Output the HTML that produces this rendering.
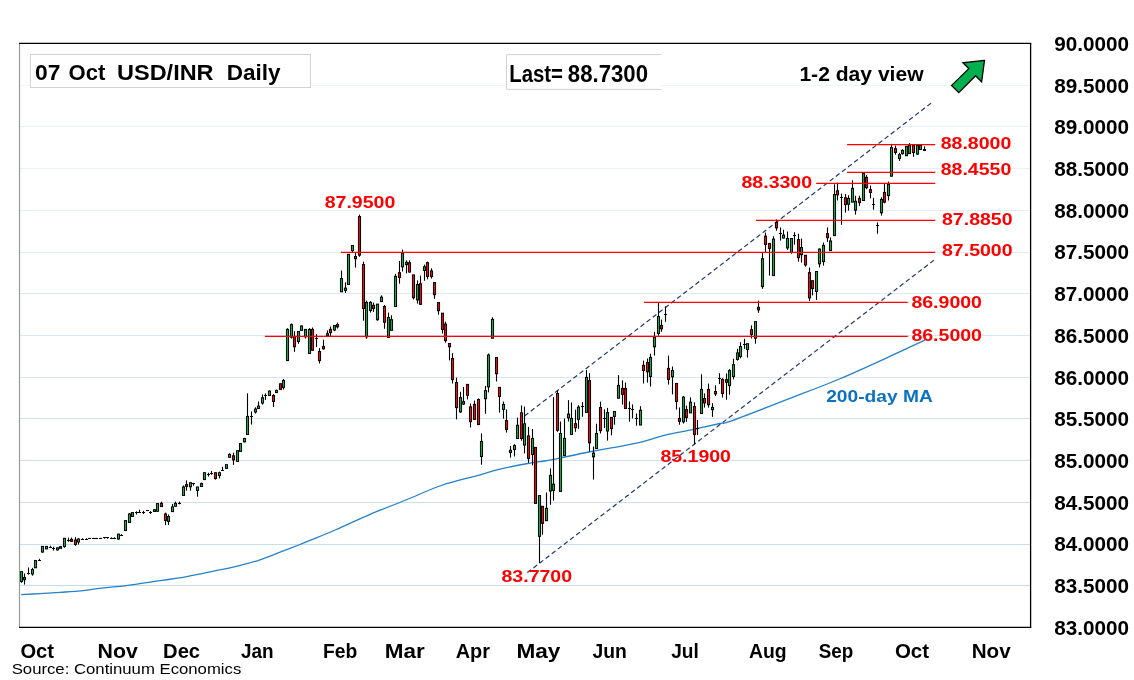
<!DOCTYPE html>
<html><head><meta charset="utf-8"><title>USD/INR Daily</title>
<style>html,body{margin:0;padding:0;background:#fff;}svg{display:block;will-change:transform;}text{font-family:"Liberation Sans",sans-serif;}</style></head>
<body>
<svg width="1134" height="680" viewBox="0 0 1134 680">
<rect x="0" y="0" width="1134" height="680" fill="#ffffff"/>
<g stroke-width="1.2" fill="none">
<line x1="20" y1="85.5" x2="1030" y2="85.5" stroke="#eef3fc"/>
<line x1="20" y1="126.5" x2="1030" y2="126.5" stroke="#ebf1fb"/>
<line x1="20" y1="168.5" x2="1030" y2="168.5" stroke="#e7effa"/>
<line x1="20" y1="210.5" x2="1030" y2="210.5" stroke="#e4edf9"/>
<line x1="20" y1="252.5" x2="1030" y2="252.5" stroke="#e1ebf8"/>
<line x1="20" y1="293.5" x2="1030" y2="293.5" stroke="#dde9f7"/>
<line x1="20" y1="335.5" x2="1030" y2="335.5" stroke="#dae6f6"/>
<line x1="20" y1="377.5" x2="1030" y2="377.5" stroke="#d7e4f4"/>
<line x1="20" y1="418.5" x2="1030" y2="418.5" stroke="#d3e2f3"/>
<line x1="20" y1="460.5" x2="1030" y2="460.5" stroke="#d0e0f2"/>
<line x1="20" y1="502.5" x2="1030" y2="502.5" stroke="#cddef1"/>
<line x1="20" y1="544.5" x2="1030" y2="544.5" stroke="#c9dcf0"/>
<line x1="20" y1="585.5" x2="1030" y2="585.5" stroke="#c6daef"/>
</g>
<path fill="none" stroke="#2582c9" stroke-width="1.3" stroke-linejoin="round" d="M21.2,594.7 C24.3,594.5 33.5,594.0 40.0,593.6 C46.5,593.2 54.2,592.7 60.0,592.3 C65.8,591.9 67.7,592.1 75.0,591.4 C82.3,590.7 95.8,588.8 104.1,587.9 C112.4,587.0 117.6,586.7 125.0,585.8 C132.4,584.9 138.2,583.9 148.3,582.4 C158.4,580.9 174.8,578.8 185.8,576.9 C196.8,575.0 206.1,572.7 214.5,570.9 C222.9,569.1 229.2,568.1 236.5,566.3 C243.8,564.5 251.2,562.7 258.6,560.3 C266.0,557.9 273.8,554.5 280.7,551.9 C287.6,549.3 295.1,546.4 300.0,544.5 C304.9,542.6 304.1,542.8 310.0,540.4 C315.9,538.0 325.2,534.4 335.3,530.0 C345.4,525.6 358.8,519.1 370.6,514.1 C382.4,509.1 394.1,504.8 405.9,500.0 C417.7,495.2 429.4,489.5 441.2,485.5 C453.0,481.5 466.7,478.5 476.5,475.8 C486.3,473.1 490.8,471.3 500.0,469.1 C509.2,466.9 524.3,464.2 531.8,462.8 C539.3,461.4 540.4,461.8 545.0,461.0 C549.6,460.2 552.1,459.7 559.4,458.2 C566.7,456.7 578.7,454.0 588.8,452.0 C598.9,450.0 611.1,448.0 620.0,446.3 C628.9,444.6 634.6,443.7 642.0,441.9 C649.4,440.1 655.5,437.4 664.1,435.3 C672.7,433.2 684.2,431.4 693.5,429.4 C702.8,427.4 713.9,424.8 720.0,423.5 C726.1,422.2 719.2,425.2 730.0,421.4 C740.8,417.5 766.5,407.5 784.7,400.4 C802.9,393.3 821.1,386.7 839.4,379.0 C857.6,371.3 880.0,360.9 894.2,354.4 C908.4,347.9 919.7,342.6 924.8,340.2"/>
<g stroke="#1f3a6e" stroke-width="1.2" stroke-dasharray="4.7 3.0" fill="none">
<line x1="524.6" y1="415.9" x2="931.4" y2="102.9"/>
<line x1="527.3" y1="572.6" x2="935.2" y2="259.2"/>
</g>
<g stroke="#000" stroke-width="1.0">
<line x1="21.5" y1="571.6" x2="21.5" y2="582.8" stroke-width="1.1"/><rect x="20.45" y="571.6" width="2.1" height="9.9" fill="#00b050"/>
<line x1="24.5" y1="573.5" x2="24.5" y2="584.6" stroke-width="1.1"/><rect x="23.45" y="577.5" width="2.1" height="2.2" fill="#00b050"/>
<line x1="28.5" y1="567.4" x2="28.5" y2="574.6" stroke-width="1.1"/><rect x="27.0" y="573" width="3" height="1" fill="#000" stroke="none"/>
<line x1="32.5" y1="567.8" x2="32.5" y2="575.7" stroke-width="1.1"/><rect x="31.45" y="569.6" width="2.1" height="4.4" fill="#00b050"/>
<line x1="35.5" y1="560.5" x2="35.5" y2="567.8" stroke-width="1.1"/><rect x="34.45" y="560.5" width="2.1" height="7.3" fill="#00b050"/>
<line x1="39.5" y1="558.8" x2="39.5" y2="560.7" stroke-width="1.1"/><rect x="38.0" y="560" width="3" height="1" fill="#000" stroke="none"/>
<line x1="42.5" y1="546.4" x2="42.5" y2="552.8" stroke-width="1.1"/><rect x="41.45" y="546.4" width="2.1" height="5.6" fill="#00b050"/>
<line x1="46.5" y1="546.4" x2="46.5" y2="548.8" stroke-width="1.1"/><rect x="45.45" y="546.4" width="2.1" height="2.5" fill="#00b050"/>
<line x1="50.5" y1="545.7" x2="50.5" y2="547.9" stroke-width="1.1"/><rect x="49.0" y="547" width="3" height="1" fill="#000" stroke="none"/>
<line x1="53.5" y1="546.6" x2="53.5" y2="550.6" stroke-width="1.1"/><rect x="52.0" y="548" width="3" height="1" fill="#000" stroke="none"/>
<line x1="57.5" y1="547.8" x2="57.5" y2="550.6" stroke-width="1.1"/><rect x="56.45" y="547.8" width="2.1" height="2.1" fill="#00b050"/>
<line x1="60.5" y1="546.6" x2="60.5" y2="548.4" stroke-width="1.1"/><rect x="59.45" y="546.6" width="2.1" height="1.8" fill="#00b050"/>
<line x1="64.5" y1="538.3" x2="64.5" y2="547.7" stroke-width="1.1"/><rect x="63.45" y="538.3" width="2.1" height="8.3" fill="#00b050"/>
<line x1="68.5" y1="537.6" x2="68.5" y2="541.8" stroke-width="1.1"/><rect x="67.0" y="540" width="3" height="1" fill="#000" stroke="none"/>
<line x1="71.5" y1="537.6" x2="71.5" y2="541.8" stroke-width="1.1"/><rect x="70.45" y="539.4" width="2.1" height="1.9" fill="#ff0000"/>
<line x1="75.5" y1="537.1" x2="75.5" y2="545.8" stroke-width="1.1"/><rect x="74.45" y="540.0" width="2.1" height="4.4" fill="#ff0000"/>
<line x1="78.5" y1="538.3" x2="78.5" y2="544.5" stroke-width="1.1"/><rect x="77.45" y="539.0" width="2.1" height="2.9" fill="#00b050"/>
<line x1="82.5" y1="538.3" x2="82.5" y2="539.7" stroke-width="1.1"/><rect x="81.0" y="539" width="3" height="1" fill="#000" stroke="none"/>
<line x1="86.5" y1="538.3" x2="86.5" y2="539.7" stroke-width="1.1"/><rect x="85.0" y="539" width="3" height="1" fill="#000" stroke="none"/>
<line x1="89.5" y1="537.8" x2="89.5" y2="538.4" stroke-width="1.1"/><rect x="88.0" y="538" width="3" height="1" fill="#000" stroke="none"/>
<line x1="93.5" y1="537.8" x2="93.5" y2="538.4" stroke-width="1.1"/><rect x="92.0" y="538" width="3" height="1" fill="#000" stroke="none"/>
<line x1="96.5" y1="537.8" x2="96.5" y2="538.4" stroke-width="1.1"/><rect x="95.0" y="538" width="3" height="1" fill="#000" stroke="none"/>
<line x1="100.5" y1="537.8" x2="100.5" y2="538.4" stroke-width="1.1"/><rect x="99.0" y="538" width="3" height="1" fill="#000" stroke="none"/>
<line x1="104.5" y1="537.1" x2="104.5" y2="538.7" stroke-width="1.1"/><rect x="103.0" y="537" width="3" height="1" fill="#000" stroke="none"/>
<line x1="107.5" y1="537.1" x2="107.5" y2="538.7" stroke-width="1.1"/><rect x="106.0" y="537" width="3" height="1" fill="#000" stroke="none"/>
<line x1="111.5" y1="537.3" x2="111.5" y2="539.0" stroke-width="1.1"/><rect x="110.0" y="538" width="3" height="1" fill="#000" stroke="none"/>
<line x1="114.5" y1="537.3" x2="114.5" y2="539.0" stroke-width="1.1"/><rect x="113.0" y="538" width="3" height="1" fill="#000" stroke="none"/>
<line x1="118.5" y1="534.1" x2="118.5" y2="539.7" stroke-width="1.1"/><rect x="117.45" y="534.1" width="2.1" height="4.9" fill="#00b050"/>
<line x1="121.5" y1="534.1" x2="121.5" y2="535.6" stroke-width="1.1"/><rect x="120.0" y="535" width="3" height="1" fill="#000" stroke="none"/>
<line x1="125.5" y1="520.6" x2="125.5" y2="530.6" stroke-width="1.1"/><rect x="124.45" y="520.6" width="2.1" height="10.0" fill="#00b050"/>
<line x1="129.5" y1="512.9" x2="129.5" y2="522.4" stroke-width="1.1"/><rect x="128.45" y="514.0" width="2.1" height="8.5" fill="#00b050"/>
<line x1="132.5" y1="512.6" x2="132.5" y2="516.4" stroke-width="1.1"/><rect x="131.45" y="512.6" width="2.1" height="3.8" fill="#00b050"/>
<line x1="136.5" y1="511.3" x2="136.5" y2="514.5" stroke-width="1.1"/><rect x="135.0" y="512" width="3" height="1" fill="#000" stroke="none"/>
<line x1="139.5" y1="509.7" x2="139.5" y2="512.9" stroke-width="1.1"/><rect x="138.0" y="512" width="3" height="1" fill="#000" stroke="none"/>
<line x1="143.5" y1="510.8" x2="143.5" y2="514.0" stroke-width="1.1"/><rect x="142.0" y="512" width="3" height="1" fill="#000" stroke="none"/>
<line x1="147.5" y1="510.5" x2="147.5" y2="511.1" stroke-width="1.1"/><rect x="146.0" y="510" width="3" height="1" fill="#000" stroke="none"/>
<line x1="150.5" y1="511.1" x2="150.5" y2="514.0" stroke-width="1.1"/><rect x="149.0" y="512" width="3" height="1" fill="#000" stroke="none"/>
<line x1="154.5" y1="509.7" x2="154.5" y2="511.5" stroke-width="1.1"/><rect x="153.45" y="509.7" width="2.1" height="1.8" fill="#00b050"/>
<line x1="157.5" y1="503.6" x2="157.5" y2="511.3" stroke-width="1.1"/><rect x="156.45" y="503.6" width="2.1" height="7.7" fill="#00b050"/>
<line x1="161.5" y1="501.6" x2="161.5" y2="506.5" stroke-width="1.1"/><rect x="160.45" y="503.4" width="2.1" height="3.2" fill="#ff0000"/>
<line x1="165.5" y1="512.6" x2="165.5" y2="525.1" stroke-width="1.1"/><rect x="164.45" y="514.0" width="2.1" height="6.4" fill="#ff0000"/>
<line x1="168.5" y1="514.5" x2="168.5" y2="525.1" stroke-width="1.1"/><rect x="167.45" y="516.6" width="2.1" height="4.8" fill="#00b050"/>
<line x1="172.5" y1="503.9" x2="172.5" y2="511.5" stroke-width="1.1"/><rect x="171.45" y="506.9" width="2.1" height="4.7" fill="#00b050"/>
<line x1="175.5" y1="501.6" x2="175.5" y2="506.2" stroke-width="1.1"/><rect x="174.45" y="503.4" width="2.1" height="2.9" fill="#00b050"/>
<line x1="179.5" y1="501.6" x2="179.5" y2="504.3" stroke-width="1.1"/><rect x="178.0" y="503" width="3" height="1" fill="#000" stroke="none"/>
<line x1="183.5" y1="485.4" x2="183.5" y2="495.4" stroke-width="1.1"/><rect x="182.45" y="487.0" width="2.1" height="8.5" fill="#00b050"/>
<line x1="186.5" y1="480.4" x2="186.5" y2="490.7" stroke-width="1.1"/><rect x="185.45" y="484.6" width="2.1" height="1.8" fill="#ff0000"/>
<line x1="190.5" y1="482.7" x2="190.5" y2="490.7" stroke-width="1.1"/><rect x="189.45" y="482.7" width="2.1" height="4.0" fill="#00b050"/>
<line x1="193.5" y1="482.9" x2="193.5" y2="485.7" stroke-width="1.1"/><rect x="192.0" y="483" width="3" height="1" fill="#000" stroke="none"/>
<line x1="197.5" y1="487.0" x2="197.5" y2="496.7" stroke-width="1.1"/><rect x="196.45" y="487.0" width="2.1" height="3.4" fill="#00b050"/>
<line x1="201.5" y1="482.5" x2="201.5" y2="486.4" stroke-width="1.1"/><rect x="200.45" y="483.6" width="2.1" height="2.9" fill="#00b050"/>
<line x1="204.5" y1="472.7" x2="204.5" y2="479.5" stroke-width="1.1"/><rect x="203.45" y="472.7" width="2.1" height="6.9" fill="#00b050"/>
<line x1="208.5" y1="472.7" x2="208.5" y2="476.6" stroke-width="1.1"/><rect x="207.0" y="474" width="3" height="1" fill="#000" stroke="none"/>
<line x1="211.5" y1="470.9" x2="211.5" y2="474.8" stroke-width="1.1"/><rect x="210.0" y="473" width="3" height="1" fill="#000" stroke="none"/>
<line x1="215.5" y1="472.7" x2="215.5" y2="479.7" stroke-width="1.1"/><rect x="214.45" y="472.7" width="2.1" height="5.8" fill="#ff0000"/>
<line x1="219.5" y1="471.6" x2="219.5" y2="478.5" stroke-width="1.1"/><rect x="218.45" y="472.7" width="2.1" height="2.9" fill="#00b050"/>
<line x1="222.5" y1="466.8" x2="222.5" y2="470.9" stroke-width="1.1"/><rect x="221.0" y="470" width="3" height="1" fill="#000" stroke="none"/>
<line x1="226.5" y1="464.7" x2="226.5" y2="468.4" stroke-width="1.1"/><rect x="225.45" y="464.7" width="2.1" height="3.7" fill="#00b050"/>
<line x1="229.5" y1="453.3" x2="229.5" y2="457.3" stroke-width="1.1"/><rect x="228.45" y="454.4" width="2.1" height="2.9" fill="#00b050"/>
<line x1="233.5" y1="452.6" x2="233.5" y2="464.9" stroke-width="1.1"/><rect x="232.45" y="455.8" width="2.1" height="4.1" fill="#ff0000"/>
<line x1="237.5" y1="450.7" x2="237.5" y2="461.4" stroke-width="1.1"/><rect x="236.45" y="450.7" width="2.1" height="10.7" fill="#00b050"/>
<line x1="240.5" y1="443.6" x2="240.5" y2="451.4" stroke-width="1.1"/><rect x="239.45" y="443.6" width="2.1" height="7.8" fill="#00b050"/>
<line x1="244.5" y1="437.9" x2="244.5" y2="442.3" stroke-width="1.1"/><rect x="243.45" y="438.5" width="2.1" height="3.4" fill="#00b050"/>
<line x1="247.5" y1="393.3" x2="247.5" y2="434.5" stroke-width="1.1"/><rect x="246.45" y="416.4" width="2.1" height="18.1" fill="#00b050"/>
<line x1="251.5" y1="411.4" x2="251.5" y2="424.6" stroke-width="1.1"/><rect x="250.0" y="416" width="3" height="1" fill="#000" stroke="none"/>
<line x1="255.5" y1="407.3" x2="255.5" y2="413.5" stroke-width="1.1"/><rect x="254.45" y="409.1" width="2.1" height="2.9" fill="#00b050"/>
<line x1="258.5" y1="401.4" x2="258.5" y2="408.8" stroke-width="1.1"/><rect x="257.45" y="406.1" width="2.1" height="2.4" fill="#00b050"/>
<line x1="262.5" y1="394.4" x2="262.5" y2="404.6" stroke-width="1.1"/><rect x="261.45" y="397.7" width="2.1" height="5.4" fill="#00b050"/>
<line x1="265.5" y1="393.3" x2="265.5" y2="399.9" stroke-width="1.1"/><rect x="264.0" y="395" width="3" height="1" fill="#000" stroke="none"/>
<line x1="269.5" y1="390.4" x2="269.5" y2="395.5" stroke-width="1.1"/><rect x="268.45" y="391.1" width="2.1" height="4.4" fill="#00b050"/>
<line x1="273.5" y1="394.1" x2="273.5" y2="407.0" stroke-width="1.1"/><rect x="272.45" y="395.5" width="2.1" height="5.9" fill="#ff0000"/>
<line x1="276.5" y1="389.6" x2="276.5" y2="392.9" stroke-width="1.1"/><rect x="275.45" y="390.4" width="2.1" height="2.2" fill="#00b050"/>
<line x1="280.5" y1="383.5" x2="280.5" y2="389.6" stroke-width="1.1"/><rect x="279.45" y="383.8" width="2.1" height="5.6" fill="#ff0000"/>
<line x1="283.5" y1="379.1" x2="283.5" y2="389.6" stroke-width="1.1"/><rect x="282.45" y="380.5" width="2.1" height="6.9" fill="#00b050"/>
<line x1="287.5" y1="328.2" x2="287.5" y2="360.6" stroke-width="1.1"/><rect x="286.45" y="329.4" width="2.1" height="31.2" fill="#00b050"/>
<line x1="291.5" y1="323.5" x2="291.5" y2="338.5" stroke-width="1.1"/><rect x="290.45" y="324.6" width="2.1" height="12.5" fill="#00b050"/>
<line x1="294.5" y1="331.2" x2="294.5" y2="351.8" stroke-width="1.1"/><rect x="293.45" y="336.8" width="2.1" height="9.9" fill="#ff0000"/>
<line x1="298.5" y1="331.5" x2="298.5" y2="343.7" stroke-width="1.1"/><rect x="297.45" y="331.5" width="2.1" height="10.0" fill="#00b050"/>
<line x1="301.5" y1="325.3" x2="301.5" y2="330.4" stroke-width="1.1"/><rect x="300.45" y="326.0" width="2.1" height="4.4" fill="#00b050"/>
<line x1="305.5" y1="329.4" x2="305.5" y2="338.5" stroke-width="1.1"/><rect x="304.45" y="329.4" width="2.1" height="7.4" fill="#00b050"/>
<line x1="309.5" y1="328.2" x2="309.5" y2="353.5" stroke-width="1.1"/><rect x="308.45" y="329.4" width="2.1" height="24.1" fill="#00b050"/>
<line x1="312.5" y1="327.5" x2="312.5" y2="350.3" stroke-width="1.1"/><rect x="311.45" y="329.4" width="2.1" height="20.9" fill="#ff0000"/>
<line x1="316.5" y1="334.1" x2="316.5" y2="347.1" stroke-width="1.1"/><rect x="315.0" y="338" width="3" height="1" fill="#000" stroke="none"/>
<line x1="319.5" y1="348.1" x2="319.5" y2="363.5" stroke-width="1.1"/><rect x="318.45" y="351.5" width="2.1" height="9.1" fill="#ff0000"/>
<line x1="323.5" y1="339.7" x2="323.5" y2="349.6" stroke-width="1.1"/><rect x="322.45" y="346.6" width="2.1" height="2.2" fill="#ff0000"/>
<line x1="327.5" y1="330.4" x2="327.5" y2="335.9" stroke-width="1.1"/><rect x="326.45" y="333.8" width="2.1" height="2.1" fill="#00b050"/>
<line x1="330.5" y1="326.5" x2="330.5" y2="335.9" stroke-width="1.1"/><rect x="329.45" y="329.4" width="2.1" height="3.2" fill="#ff0000"/>
<line x1="334.5" y1="325.6" x2="334.5" y2="331.2" stroke-width="1.1"/><rect x="333.45" y="325.6" width="2.1" height="4.4" fill="#00b050"/>
<line x1="337.5" y1="322.6" x2="337.5" y2="328.5" stroke-width="1.1"/><rect x="336.45" y="324.6" width="2.1" height="2.2" fill="#ff0000"/>
<line x1="341.5" y1="270.5" x2="341.5" y2="291.8" stroke-width="1.1"/><rect x="340.45" y="278.6" width="2.1" height="13.2" fill="#00b050"/>
<line x1="345.5" y1="282.3" x2="345.5" y2="293.0" stroke-width="1.1"/><rect x="344.45" y="288.1" width="2.1" height="2.3" fill="#00b050"/>
<line x1="348.5" y1="254.3" x2="348.5" y2="284.5" stroke-width="1.1"/><rect x="347.45" y="254.3" width="2.1" height="30.2" fill="#00b050"/>
<line x1="352.5" y1="245.5" x2="352.5" y2="252.1" stroke-width="1.1"/><rect x="351.45" y="245.5" width="2.1" height="5.1" fill="#00b050"/>
<line x1="355.5" y1="252.1" x2="355.5" y2="267.6" stroke-width="1.1"/><rect x="354.45" y="256.5" width="2.1" height="2.2" fill="#ff0000"/>
<line x1="359.5" y1="214.6" x2="359.5" y2="256.8" stroke-width="1.1"/><rect x="358.45" y="216.5" width="2.1" height="38.6" fill="#ff0000"/>
<line x1="363.5" y1="261.7" x2="363.5" y2="320.7" stroke-width="1.1"/><rect x="362.45" y="264.6" width="2.1" height="43.9" fill="#ff0000"/>
<line x1="366.5" y1="300.6" x2="366.5" y2="338.8" stroke-width="1.1"/><rect x="365.45" y="302.4" width="2.1" height="34.5" fill="#00b050"/>
<line x1="370.5" y1="301.2" x2="370.5" y2="312.6" stroke-width="1.1"/><rect x="369.45" y="302.4" width="2.1" height="8.0" fill="#00b050"/>
<line x1="373.5" y1="302.6" x2="373.5" y2="311.9" stroke-width="1.1"/><rect x="372.45" y="305.3" width="2.1" height="3.2" fill="#ff0000"/>
<line x1="377.5" y1="304.1" x2="377.5" y2="320.7" stroke-width="1.1"/><rect x="376.45" y="304.1" width="2.1" height="15.6" fill="#00b050"/>
<line x1="381.5" y1="295.3" x2="381.5" y2="301.6" stroke-width="1.1"/><rect x="380.45" y="297.2" width="2.1" height="4.4" fill="#00b050"/>
<line x1="384.5" y1="305.0" x2="384.5" y2="328.8" stroke-width="1.1"/><rect x="383.45" y="306.5" width="2.1" height="15.7" fill="#ff0000"/>
<line x1="388.5" y1="312.6" x2="388.5" y2="337.9" stroke-width="1.1"/><rect x="387.45" y="317.4" width="2.1" height="20.0" fill="#00b050"/>
<line x1="391.5" y1="315.3" x2="391.5" y2="330.3" stroke-width="1.1"/><rect x="390.45" y="319.7" width="2.1" height="10.6" fill="#00b050"/>
<line x1="395.5" y1="273.9" x2="395.5" y2="306.5" stroke-width="1.1"/><rect x="394.45" y="276.4" width="2.1" height="30.1" fill="#00b050"/>
<line x1="399.5" y1="260.9" x2="399.5" y2="283.7" stroke-width="1.1"/><rect x="398.45" y="272.7" width="2.1" height="4.7" fill="#ff0000"/>
<line x1="402.5" y1="249.5" x2="402.5" y2="271.5" stroke-width="1.1"/><rect x="401.45" y="252.9" width="2.1" height="13.9" fill="#00b050"/>
<line x1="406.5" y1="260.2" x2="406.5" y2="273.4" stroke-width="1.1"/><rect x="405.45" y="262.4" width="2.1" height="2.2" fill="#00b050"/>
<line x1="409.5" y1="260.2" x2="409.5" y2="272.7" stroke-width="1.1"/><rect x="408.45" y="262.7" width="2.1" height="9.3" fill="#ff0000"/>
<line x1="413.5" y1="274.9" x2="413.5" y2="299.5" stroke-width="1.1"/><rect x="412.45" y="274.9" width="2.1" height="22.8" fill="#ff0000"/>
<line x1="417.5" y1="280.4" x2="417.5" y2="303.6" stroke-width="1.1"/><rect x="416.45" y="284.5" width="2.1" height="15.4" fill="#00b050"/>
<line x1="420.5" y1="275.6" x2="420.5" y2="305.0" stroke-width="1.1"/><rect x="419.45" y="283.7" width="2.1" height="20.6" fill="#ff0000"/>
<line x1="424.5" y1="264.6" x2="424.5" y2="280.8" stroke-width="1.1"/><rect x="423.45" y="266.8" width="2.1" height="3.7" fill="#00b050"/>
<line x1="427.5" y1="261.7" x2="427.5" y2="279.3" stroke-width="1.1"/><rect x="426.45" y="262.7" width="2.1" height="13.7" fill="#ff0000"/>
<line x1="431.5" y1="268.3" x2="431.5" y2="278.6" stroke-width="1.1"/><rect x="430.45" y="270.9" width="2.1" height="5.5" fill="#ff0000"/>
<line x1="434.5" y1="282.6" x2="434.5" y2="298.8" stroke-width="1.1"/><rect x="433.45" y="282.6" width="2.1" height="12.1" fill="#ff0000"/>
<line x1="438.5" y1="302.5" x2="438.5" y2="314.7" stroke-width="1.1"/><rect x="437.45" y="302.5" width="2.1" height="8.1" fill="#ff0000"/>
<line x1="442.5" y1="313.2" x2="442.5" y2="333.5" stroke-width="1.1"/><rect x="441.45" y="313.2" width="2.1" height="16.3" fill="#ff0000"/>
<line x1="445.5" y1="321.6" x2="445.5" y2="342.8" stroke-width="1.1"/><rect x="444.45" y="324.1" width="2.1" height="16.5" fill="#ff0000"/>
<line x1="449.5" y1="343.5" x2="449.5" y2="360.4" stroke-width="1.1"/><rect x="448.45" y="343.5" width="2.1" height="3.3" fill="#ff0000"/>
<line x1="452.5" y1="353.1" x2="452.5" y2="383.5" stroke-width="1.1"/><rect x="451.45" y="358.5" width="2.1" height="21.1" fill="#ff0000"/>
<line x1="456.5" y1="377.6" x2="456.5" y2="419.4" stroke-width="1.1"/><rect x="455.45" y="382.5" width="2.1" height="25.1" fill="#ff0000"/>
<line x1="460.5" y1="391.8" x2="460.5" y2="412.9" stroke-width="1.1"/><rect x="459.45" y="397.6" width="2.1" height="14.3" fill="#00b050"/>
<line x1="463.5" y1="386.9" x2="463.5" y2="405.0" stroke-width="1.1"/><rect x="462.45" y="401.6" width="2.1" height="2.5" fill="#00b050"/>
<line x1="467.5" y1="384.4" x2="467.5" y2="399.4" stroke-width="1.1"/><rect x="466.45" y="384.4" width="2.1" height="10.9" fill="#ff0000"/>
<line x1="470.5" y1="403.5" x2="470.5" y2="427.5" stroke-width="1.1"/><rect x="469.45" y="406.9" width="2.1" height="14.7" fill="#ff0000"/>
<line x1="474.5" y1="400.6" x2="474.5" y2="419.4" stroke-width="1.1"/><rect x="473.45" y="404.4" width="2.1" height="15.0" fill="#ff0000"/>
<line x1="478.5" y1="398.5" x2="478.5" y2="424.6" stroke-width="1.1"/><rect x="477.45" y="399.6" width="2.1" height="25.0" fill="#ff0000"/>
<line x1="481.5" y1="433.4" x2="481.5" y2="464.7" stroke-width="1.1"/><rect x="480.45" y="441.5" width="2.1" height="15.0" fill="#00b050"/>
<line x1="485.5" y1="385.9" x2="485.5" y2="413.8" stroke-width="1.1"/><rect x="484.45" y="390.6" width="2.1" height="8.1" fill="#00b050"/>
<line x1="488.5" y1="353.5" x2="488.5" y2="392.4" stroke-width="1.1"/><rect x="487.45" y="355.0" width="2.1" height="31.9" fill="#00b050"/>
<line x1="492.5" y1="317.2" x2="492.5" y2="338.2" stroke-width="1.1"/><rect x="491.45" y="319.4" width="2.1" height="18.8" fill="#00b050"/>
<line x1="496.5" y1="357.5" x2="496.5" y2="381.5" stroke-width="1.1"/><rect x="495.45" y="357.5" width="2.1" height="16.2" fill="#ff0000"/>
<line x1="499.5" y1="387.4" x2="499.5" y2="412.6" stroke-width="1.1"/><rect x="498.45" y="387.4" width="2.1" height="9.1" fill="#ff0000"/>
<line x1="503.5" y1="401.5" x2="503.5" y2="418.7" stroke-width="1.1"/><rect x="502.45" y="404.4" width="2.1" height="5.0" fill="#00b050"/>
<line x1="506.5" y1="409.4" x2="506.5" y2="432.6" stroke-width="1.1"/><rect x="505.45" y="420.6" width="2.1" height="8.8" fill="#ff0000"/>
<line x1="510.5" y1="445.9" x2="510.5" y2="457.6" stroke-width="1.1"/><rect x="509.45" y="450.3" width="2.1" height="2.2" fill="#00b050"/>
<line x1="514.5" y1="444.1" x2="514.5" y2="456.5" stroke-width="1.1"/><rect x="513.45" y="445.6" width="2.1" height="4.0" fill="#00b050"/>
<line x1="517.5" y1="417.6" x2="517.5" y2="438.5" stroke-width="1.1"/><rect x="516.45" y="425.3" width="2.1" height="13.2" fill="#00b050"/>
<line x1="521.5" y1="405.4" x2="521.5" y2="440.7" stroke-width="1.1"/><rect x="520.45" y="412.8" width="2.1" height="25.7" fill="#ff0000"/>
<line x1="524.5" y1="406.5" x2="524.5" y2="453.5" stroke-width="1.1"/><rect x="523.45" y="423.8" width="2.1" height="21.3" fill="#00b050"/>
<line x1="528.5" y1="426.8" x2="528.5" y2="462.8" stroke-width="1.1"/><rect x="527.45" y="435.9" width="2.1" height="22.5" fill="#ff0000"/>
<line x1="532.5" y1="429.0" x2="532.5" y2="465.3" stroke-width="1.1"/><rect x="531.45" y="438.5" width="2.1" height="15.9" fill="#00b050"/>
<line x1="535.5" y1="447.4" x2="535.5" y2="503.4" stroke-width="1.1"/><rect x="534.45" y="447.4" width="2.1" height="56.0" fill="#ff0000"/>
<line x1="539.5" y1="495.6" x2="539.5" y2="563.0" stroke-width="1.1"/><rect x="538.45" y="495.6" width="2.1" height="40.7" fill="#00b050"/>
<line x1="542.5" y1="506.3" x2="542.5" y2="534.7" stroke-width="1.1"/><rect x="541.45" y="506.3" width="2.1" height="17.0" fill="#ff0000"/>
<line x1="546.5" y1="492.5" x2="546.5" y2="520.7" stroke-width="1.1"/><rect x="545.45" y="508.3" width="2.1" height="12.4" fill="#00b050"/>
<line x1="550.5" y1="468.4" x2="550.5" y2="504.8" stroke-width="1.1"/><rect x="549.45" y="475.4" width="2.1" height="15.6" fill="#00b050"/>
<line x1="553.5" y1="397.2" x2="553.5" y2="500.7" stroke-width="1.1"/><rect x="552.45" y="484.2" width="2.1" height="6.2" fill="#00b050"/>
<line x1="557.5" y1="390.6" x2="557.5" y2="431.8" stroke-width="1.1"/><rect x="556.45" y="393.5" width="2.1" height="36.8" fill="#ff0000"/>
<line x1="560.5" y1="421.5" x2="560.5" y2="491.4" stroke-width="1.1"/><rect x="559.45" y="433.5" width="2.1" height="57.9" fill="#00b050"/>
<line x1="564.5" y1="418.5" x2="564.5" y2="455.6" stroke-width="1.1"/><rect x="563.45" y="438.4" width="2.1" height="17.2" fill="#00b050"/>
<line x1="568.5" y1="400.1" x2="568.5" y2="421.5" stroke-width="1.1"/><rect x="567.45" y="414.1" width="2.1" height="3.7" fill="#00b050"/>
<line x1="571.5" y1="402.4" x2="571.5" y2="434.4" stroke-width="1.1"/><rect x="570.45" y="418.5" width="2.1" height="15.9" fill="#00b050"/>
<line x1="575.5" y1="409.7" x2="575.5" y2="431.8" stroke-width="1.1"/><rect x="574.45" y="423.7" width="2.1" height="4.0" fill="#ff0000"/>
<line x1="578.5" y1="405.3" x2="578.5" y2="428.8" stroke-width="1.1"/><rect x="577.45" y="407.1" width="2.1" height="12.2" fill="#00b050"/>
<line x1="582.5" y1="402.1" x2="582.5" y2="416.8" stroke-width="1.1"/><rect x="581.0" y="406" width="3" height="1" fill="#000" stroke="none"/>
<line x1="586.5" y1="370.0" x2="586.5" y2="412.4" stroke-width="1.1"/><rect x="585.45" y="377.4" width="2.1" height="35.0" fill="#00b050"/>
<line x1="589.5" y1="373.2" x2="589.5" y2="451.6" stroke-width="1.1"/><rect x="588.45" y="380.6" width="2.1" height="62.2" fill="#ff0000"/>
<line x1="593.5" y1="446.5" x2="593.5" y2="479.6" stroke-width="1.1"/><rect x="592.45" y="453.1" width="2.1" height="3.7" fill="#00b050"/>
<line x1="596.5" y1="423.7" x2="596.5" y2="448.7" stroke-width="1.1"/><rect x="595.45" y="433.5" width="2.1" height="15.1" fill="#00b050"/>
<line x1="600.5" y1="401.6" x2="600.5" y2="433.5" stroke-width="1.1"/><rect x="599.45" y="407.5" width="2.1" height="23.1" fill="#ff0000"/>
<line x1="604.5" y1="409.4" x2="604.5" y2="428.1" stroke-width="1.1"/><rect x="603.0" y="418" width="3" height="1" fill="#000" stroke="none"/>
<line x1="607.5" y1="407.9" x2="607.5" y2="440.6" stroke-width="1.1"/><rect x="606.45" y="412.6" width="2.1" height="18.4" fill="#00b050"/>
<line x1="611.5" y1="417.4" x2="611.5" y2="435.4" stroke-width="1.1"/><rect x="610.45" y="417.4" width="2.1" height="11.2" fill="#ff0000"/>
<line x1="614.5" y1="411.5" x2="614.5" y2="424.7" stroke-width="1.1"/><rect x="613.45" y="411.5" width="2.1" height="4.9" fill="#00b050"/>
<line x1="618.5" y1="375.1" x2="618.5" y2="398.2" stroke-width="1.1"/><rect x="617.45" y="385.4" width="2.1" height="12.8" fill="#00b050"/>
<line x1="622.5" y1="380.3" x2="622.5" y2="404.6" stroke-width="1.1"/><rect x="621.45" y="388.4" width="2.1" height="5.9" fill="#ff0000"/>
<line x1="625.5" y1="382.5" x2="625.5" y2="408.5" stroke-width="1.1"/><rect x="624.45" y="388.4" width="2.1" height="20.1" fill="#ff0000"/>
<line x1="629.5" y1="401.5" x2="629.5" y2="421.8" stroke-width="1.1"/><rect x="628.0" y="408" width="3" height="1" fill="#000" stroke="none"/>
<line x1="632.5" y1="404.4" x2="632.5" y2="418.4" stroke-width="1.1"/><rect x="631.0" y="409" width="3" height="1" fill="#000" stroke="none"/>
<line x1="636.5" y1="413.5" x2="636.5" y2="425.7" stroke-width="1.1"/><rect x="635.0" y="418" width="3" height="1" fill="#000" stroke="none"/>
<line x1="640.5" y1="406.2" x2="640.5" y2="425.0" stroke-width="1.1"/><rect x="639.45" y="410.3" width="2.1" height="14.7" fill="#00b050"/>
<line x1="643.5" y1="360.6" x2="643.5" y2="383.5" stroke-width="1.1"/><rect x="642.45" y="365.4" width="2.1" height="5.1" fill="#ff0000"/>
<line x1="647.5" y1="358.5" x2="647.5" y2="382.6" stroke-width="1.1"/><rect x="646.45" y="362.5" width="2.1" height="9.3" fill="#ff0000"/>
<line x1="650.5" y1="353.7" x2="650.5" y2="386.5" stroke-width="1.1"/><rect x="649.45" y="357.4" width="2.1" height="19.1" fill="#00b050"/>
<line x1="654.5" y1="331.8" x2="654.5" y2="355.6" stroke-width="1.1"/><rect x="653.45" y="337.2" width="2.1" height="9.6" fill="#00b050"/>
<line x1="658.5" y1="302.9" x2="658.5" y2="335.7" stroke-width="1.1"/><rect x="657.45" y="316.6" width="2.1" height="16.9" fill="#00b050"/>
<line x1="661.5" y1="319.6" x2="661.5" y2="331.8" stroke-width="1.1"/><rect x="660.45" y="325.4" width="2.1" height="3.4" fill="#ff0000"/>
<line x1="665.5" y1="306.3" x2="665.5" y2="321.8" stroke-width="1.1"/><rect x="664.0" y="314" width="3" height="1" fill="#000" stroke="none"/>
<line x1="668.5" y1="355.6" x2="668.5" y2="384.6" stroke-width="1.1"/><rect x="667.45" y="368.4" width="2.1" height="11.0" fill="#ff0000"/>
<line x1="672.5" y1="366.5" x2="672.5" y2="394.4" stroke-width="1.1"/><rect x="671.45" y="370.6" width="2.1" height="6.2" fill="#00b050"/>
<line x1="676.5" y1="383.5" x2="676.5" y2="409.6" stroke-width="1.1"/><rect x="675.45" y="383.5" width="2.1" height="17.9" fill="#ff0000"/>
<line x1="679.5" y1="407.4" x2="679.5" y2="424.7" stroke-width="1.1"/><rect x="678.45" y="418.4" width="2.1" height="2.9" fill="#ff0000"/>
<line x1="683.5" y1="395.9" x2="683.5" y2="423.5" stroke-width="1.1"/><rect x="682.45" y="397.1" width="2.1" height="24.7" fill="#00b050"/>
<line x1="686.5" y1="405.6" x2="686.5" y2="421.8" stroke-width="1.1"/><rect x="685.45" y="409.6" width="2.1" height="7.8" fill="#ff0000"/>
<line x1="690.5" y1="397.4" x2="690.5" y2="412.9" stroke-width="1.1"/><rect x="689.45" y="402.2" width="2.1" height="10.7" fill="#00b050"/>
<line x1="694.5" y1="402.2" x2="694.5" y2="444.4" stroke-width="1.1"/><rect x="693.45" y="406.6" width="2.1" height="27.9" fill="#ff0000"/>
<line x1="697.5" y1="419.9" x2="697.5" y2="435.0" stroke-width="1.1"/><rect x="696.0" y="428" width="3" height="1" fill="#000" stroke="none"/>
<line x1="701.5" y1="374.3" x2="701.5" y2="413.5" stroke-width="1.1"/><rect x="700.45" y="389.4" width="2.1" height="24.1" fill="#00b050"/>
<line x1="704.5" y1="393.4" x2="704.5" y2="407.6" stroke-width="1.1"/><rect x="703.45" y="398.5" width="2.1" height="4.4" fill="#ff0000"/>
<line x1="708.5" y1="383.5" x2="708.5" y2="407.6" stroke-width="1.1"/><rect x="707.45" y="389.4" width="2.1" height="15.3" fill="#ff0000"/>
<line x1="712.5" y1="403.2" x2="712.5" y2="416.9" stroke-width="1.1"/><rect x="711.45" y="407.4" width="2.1" height="2.2" fill="#00b050"/>
<line x1="715.5" y1="385.3" x2="715.5" y2="395.9" stroke-width="1.1"/><rect x="714.45" y="391.5" width="2.1" height="2.4" fill="#ff0000"/>
<line x1="719.5" y1="373.2" x2="719.5" y2="384.1" stroke-width="1.1"/><rect x="718.0" y="378" width="3" height="1" fill="#000" stroke="none"/>
<line x1="722.5" y1="378.2" x2="722.5" y2="397.6" stroke-width="1.1"/><rect x="721.45" y="379.4" width="2.1" height="14.1" fill="#ff0000"/>
<line x1="726.5" y1="373.5" x2="726.5" y2="399.7" stroke-width="1.1"/><rect x="725.45" y="379.7" width="2.1" height="2.6" fill="#ff0000"/>
<line x1="729.5" y1="369.1" x2="729.5" y2="394.7" stroke-width="1.1"/><rect x="728.45" y="370.6" width="2.1" height="15.0" fill="#00b050"/>
<line x1="733.5" y1="358.8" x2="733.5" y2="379.4" stroke-width="1.1"/><rect x="732.45" y="364.7" width="2.1" height="11.8" fill="#00b050"/>
<line x1="737.5" y1="348.8" x2="737.5" y2="360.6" stroke-width="1.1"/><rect x="736.45" y="352.9" width="2.1" height="6.5" fill="#00b050"/>
<line x1="740.5" y1="342.2" x2="740.5" y2="358.4" stroke-width="1.1"/><rect x="739.45" y="346.6" width="2.1" height="9.9" fill="#00b050"/>
<line x1="744.5" y1="338.8" x2="744.5" y2="348.8" stroke-width="1.1"/><rect x="743.0" y="344" width="3" height="1" fill="#000" stroke="none"/>
<line x1="747.5" y1="343.7" x2="747.5" y2="357.6" stroke-width="1.1"/><rect x="746.45" y="343.7" width="2.1" height="5.9" fill="#00b050"/>
<line x1="751.5" y1="325.3" x2="751.5" y2="338.5" stroke-width="1.1"/><rect x="750.45" y="329.7" width="2.1" height="4.7" fill="#ff0000"/>
<line x1="755.5" y1="321.6" x2="755.5" y2="343.7" stroke-width="1.1"/><rect x="754.45" y="321.6" width="2.1" height="16.6" fill="#00b050"/>
<line x1="758.5" y1="300.6" x2="758.5" y2="312.8" stroke-width="1.1"/><rect x="757.45" y="307.4" width="2.1" height="2.5" fill="#ff0000"/>
<line x1="762.5" y1="252.1" x2="762.5" y2="288.8" stroke-width="1.1"/><rect x="761.45" y="258.7" width="2.1" height="27.9" fill="#00b050"/>
<line x1="765.5" y1="232.6" x2="765.5" y2="252.1" stroke-width="1.1"/><rect x="764.45" y="236.2" width="2.1" height="8.2" fill="#ff0000"/>
<line x1="769.5" y1="242.9" x2="769.5" y2="275.6" stroke-width="1.1"/><rect x="768.45" y="243.5" width="2.1" height="4.9" fill="#ff0000"/>
<line x1="773.5" y1="236.2" x2="773.5" y2="275.6" stroke-width="1.1"/><rect x="772.45" y="239.1" width="2.1" height="36.5" fill="#00b050"/>
<line x1="776.5" y1="219.4" x2="776.5" y2="230.7" stroke-width="1.1"/><rect x="775.45" y="222.4" width="2.1" height="5.4" fill="#ff0000"/>
<line x1="780.5" y1="227.4" x2="780.5" y2="240.6" stroke-width="1.1"/><rect x="779.0" y="233" width="3" height="1" fill="#000" stroke="none"/>
<line x1="783.5" y1="229.7" x2="783.5" y2="238.5" stroke-width="1.1"/><rect x="782.45" y="235.1" width="2.1" height="2.9" fill="#00b050"/>
<line x1="787.5" y1="231.5" x2="787.5" y2="249.9" stroke-width="1.1"/><rect x="786.45" y="238.5" width="2.1" height="9.4" fill="#00b050"/>
<line x1="791.5" y1="238.5" x2="791.5" y2="253.8" stroke-width="1.1"/><rect x="790.45" y="238.5" width="2.1" height="13.8" fill="#00b050"/>
<line x1="794.5" y1="232.2" x2="794.5" y2="244.7" stroke-width="1.1"/><rect x="793.0" y="235" width="3" height="1" fill="#000" stroke="none"/>
<line x1="798.5" y1="233.7" x2="798.5" y2="261.6" stroke-width="1.1"/><rect x="797.45" y="239.6" width="2.1" height="18.1" fill="#ff0000"/>
<line x1="801.5" y1="238.5" x2="801.5" y2="262.6" stroke-width="1.1"/><rect x="800.45" y="247.6" width="2.1" height="7.1" fill="#00b050"/>
<line x1="805.5" y1="255.3" x2="805.5" y2="266.8" stroke-width="1.1"/><rect x="804.45" y="255.3" width="2.1" height="9.7" fill="#ff0000"/>
<line x1="809.5" y1="267.5" x2="809.5" y2="300.9" stroke-width="1.1"/><rect x="808.45" y="272.6" width="2.1" height="25.3" fill="#ff0000"/>
<line x1="812.5" y1="280.7" x2="812.5" y2="295.4" stroke-width="1.1"/><rect x="811.45" y="280.7" width="2.1" height="7.8" fill="#ff0000"/>
<line x1="816.5" y1="271.5" x2="816.5" y2="299.9" stroke-width="1.1"/><rect x="815.45" y="271.5" width="2.1" height="20.0" fill="#00b050"/>
<line x1="819.5" y1="248.4" x2="819.5" y2="267.5" stroke-width="1.1"/><rect x="818.45" y="249.1" width="2.1" height="14.7" fill="#00b050"/>
<line x1="823.5" y1="242.5" x2="823.5" y2="265.6" stroke-width="1.1"/><rect x="822.45" y="245.4" width="2.1" height="16.2" fill="#00b050"/>
<line x1="827.5" y1="227.4" x2="827.5" y2="241.8" stroke-width="1.1"/><rect x="826.45" y="233.7" width="2.1" height="4.0" fill="#ff0000"/>
<line x1="830.5" y1="237.4" x2="830.5" y2="250.6" stroke-width="1.1"/><rect x="829.45" y="241.0" width="2.1" height="9.6" fill="#00b050"/>
<line x1="834.5" y1="184.3" x2="834.5" y2="235.6" stroke-width="1.1"/><rect x="833.45" y="194.5" width="2.1" height="41.1" fill="#00b050"/>
<line x1="837.5" y1="182.7" x2="837.5" y2="200.5" stroke-width="1.1"/><rect x="836.45" y="190.8" width="2.1" height="4.0" fill="#ff0000"/>
<line x1="841.5" y1="193.6" x2="841.5" y2="224.8" stroke-width="1.1"/><rect x="840.0" y="197" width="3" height="1" fill="#000" stroke="none"/>
<line x1="845.5" y1="194.0" x2="845.5" y2="212.6" stroke-width="1.1"/><rect x="844.45" y="197.8" width="2.1" height="6.8" fill="#ff0000"/>
<line x1="848.5" y1="195.2" x2="848.5" y2="210.7" stroke-width="1.1"/><rect x="847.45" y="198.4" width="2.1" height="5.8" fill="#00b050"/>
<line x1="852.5" y1="180.3" x2="852.5" y2="202.1" stroke-width="1.1"/><rect x="851.45" y="188.4" width="2.1" height="13.7" fill="#00b050"/>
<line x1="855.5" y1="195.7" x2="855.5" y2="214.6" stroke-width="1.1"/><rect x="854.45" y="201.3" width="2.1" height="8.9" fill="#00b050"/>
<line x1="859.5" y1="195.7" x2="859.5" y2="205.9" stroke-width="1.1"/><rect x="858.45" y="198.4" width="2.1" height="4.2" fill="#ff0000"/>
<line x1="863.5" y1="172.5" x2="863.5" y2="200.5" stroke-width="1.1"/><rect x="862.45" y="173.5" width="2.1" height="27.0" fill="#00b050"/>
<line x1="866.5" y1="175.1" x2="866.5" y2="189.2" stroke-width="1.1"/><rect x="865.45" y="177.4" width="2.1" height="10.2" fill="#ff0000"/>
<line x1="870.5" y1="185.5" x2="870.5" y2="198.4" stroke-width="1.1"/><rect x="869.45" y="189.7" width="2.1" height="2.7" fill="#ff0000"/>
<line x1="873.5" y1="197.8" x2="873.5" y2="209.7" stroke-width="1.1"/><rect x="872.0" y="204" width="3" height="1" fill="#000" stroke="none"/>
<line x1="877.5" y1="222.4" x2="877.5" y2="233.7" stroke-width="1.1"/><rect x="876.0" y="225" width="3" height="1" fill="#000" stroke="none"/>
<line x1="881.5" y1="197.3" x2="881.5" y2="215.6" stroke-width="1.1"/><rect x="880.45" y="199.4" width="2.1" height="13.3" fill="#00b050"/>
<line x1="884.5" y1="183.9" x2="884.5" y2="203.3" stroke-width="1.1"/><rect x="883.45" y="192.4" width="2.1" height="9.7" fill="#ff0000"/>
<line x1="888.5" y1="181.6" x2="888.5" y2="200.5" stroke-width="1.1"/><rect x="887.45" y="184.3" width="2.1" height="11.3" fill="#00b050"/>
<line x1="891.5" y1="143.9" x2="891.5" y2="176.2" stroke-width="1.1"/><rect x="890.45" y="147.6" width="2.1" height="28.6" fill="#00b050"/>
<line x1="895.5" y1="145.5" x2="895.5" y2="154.7" stroke-width="1.1"/><rect x="894.45" y="148.7" width="2.1" height="3.7" fill="#ff0000"/>
<line x1="899.5" y1="152.8" x2="899.5" y2="160.9" stroke-width="1.1"/><rect x="898.45" y="154.7" width="2.1" height="3.7" fill="#00b050"/>
<line x1="902.5" y1="149.2" x2="902.5" y2="154.7" stroke-width="1.1"/><rect x="901.45" y="150.4" width="2.1" height="3.2" fill="#00b050"/>
<line x1="906.5" y1="146.3" x2="906.5" y2="155.7" stroke-width="1.1"/><rect x="905.45" y="146.3" width="2.1" height="9.4" fill="#00b050"/>
<line x1="909.5" y1="143.1" x2="909.5" y2="153.6" stroke-width="1.1"/><rect x="908.45" y="145.5" width="2.1" height="8.1" fill="#00b050"/>
<line x1="913.5" y1="145.5" x2="913.5" y2="156.8" stroke-width="1.1"/><rect x="912.45" y="145.5" width="2.1" height="7.0" fill="#ff0000"/>
<line x1="917.5" y1="145.5" x2="917.5" y2="154.7" stroke-width="1.1"/><rect x="916.45" y="145.5" width="2.1" height="8.6" fill="#00b050"/>
<line x1="920.5" y1="145.5" x2="920.5" y2="149.6" stroke-width="1.1"/><rect x="919.45" y="145.5" width="2.1" height="4.0" fill="#00b050"/>
<line x1="924.5" y1="146.3" x2="924.5" y2="150.7" stroke-width="1.1"/><rect x="923.0" y="149" width="3" height="2" fill="#000" stroke="none"/>
</g>
<g stroke="#ff0000" stroke-width="1.25">
<line x1="847.1" y1="144.5" x2="935.2" y2="144.5"/>
<line x1="847.1" y1="172.4" x2="935.2" y2="172.4"/>
<line x1="816.2" y1="183.4" x2="935.2" y2="183.4"/>
<line x1="756" y1="220.3" x2="935.2" y2="220.3"/>
<line x1="341" y1="252.4" x2="935.2" y2="252.4"/>
<line x1="644.1" y1="302.4" x2="907.8" y2="302.4"/>
<line x1="265" y1="336.4" x2="907.8" y2="336.4"/>
</g>
<line x1="19.5" y1="43" x2="19.5" y2="628" stroke="#9a9a9a" stroke-width="1.2"/>
<line x1="19" y1="43.4" x2="1031.2" y2="43.4" stroke="#000" stroke-width="1.3"/>
<line x1="1030.6" y1="43" x2="1030.6" y2="628" stroke="#000" stroke-width="1.3"/>
<line x1="19" y1="627.4" x2="1031.2" y2="627.4" stroke="#000" stroke-width="1.3"/>
<rect x="30.5" y="54.5" width="280" height="33" fill="#fff" stroke="#d2d2d2" stroke-width="1"/>
<path d="M661.5 54.6 H506.5 V89.4 H661.5" fill="#fff" stroke="#d2d2d2" stroke-width="1"/>
<text x="35.0" y="79.8" font-size="22.8" font-weight="bold" fill="#000" textLength="25.4" lengthAdjust="spacingAndGlyphs" xml:space="preserve">07</text>
<text x="68.6" y="79.8" font-size="22.8" font-weight="bold" fill="#000" textLength="36.8" lengthAdjust="spacingAndGlyphs" xml:space="preserve">Oct</text>
<text x="117.0" y="79.8" font-size="22.8" font-weight="bold" fill="#000" textLength="96.6" lengthAdjust="spacingAndGlyphs" xml:space="preserve">USD/INR</text>
<text x="226.7" y="79.8" font-size="22.8" font-weight="bold" fill="#000" textLength="53.8" lengthAdjust="spacingAndGlyphs" xml:space="preserve">Daily</text>
<text x="509.2" y="81.7" font-size="24.8" font-weight="bold" fill="#000" textLength="53.8" lengthAdjust="spacingAndGlyphs" xml:space="preserve">Last=</text>
<text x="567.8" y="81.7" font-size="24.8" font-weight="bold" fill="#000" textLength="80.2" lengthAdjust="spacingAndGlyphs" xml:space="preserve">88.7300</text>
<text x="799.4" y="80.7" font-size="19.6" font-weight="bold" fill="#000" textLength="124.2" lengthAdjust="spacingAndGlyphs" xml:space="preserve">1-2 day view</text>
<text x="1054.3" y="50.8" font-size="20.2" font-weight="bold" fill="#000" textLength="74.8" lengthAdjust="spacingAndGlyphs" xml:space="preserve">90.0000</text>
<text x="1054.3" y="92.5" font-size="20.2" font-weight="bold" fill="#000" textLength="74.8" lengthAdjust="spacingAndGlyphs" xml:space="preserve">89.5000</text>
<text x="1054.3" y="134.2" font-size="20.2" font-weight="bold" fill="#000" textLength="74.8" lengthAdjust="spacingAndGlyphs" xml:space="preserve">89.0000</text>
<text x="1054.3" y="175.9" font-size="20.2" font-weight="bold" fill="#000" textLength="74.8" lengthAdjust="spacingAndGlyphs" xml:space="preserve">88.5000</text>
<text x="1054.3" y="217.7" font-size="20.2" font-weight="bold" fill="#000" textLength="74.8" lengthAdjust="spacingAndGlyphs" xml:space="preserve">88.0000</text>
<text x="1054.3" y="259.4" font-size="20.2" font-weight="bold" fill="#000" textLength="74.8" lengthAdjust="spacingAndGlyphs" xml:space="preserve">87.5000</text>
<text x="1054.3" y="301.1" font-size="20.2" font-weight="bold" fill="#000" textLength="74.8" lengthAdjust="spacingAndGlyphs" xml:space="preserve">87.0000</text>
<text x="1054.3" y="342.8" font-size="20.2" font-weight="bold" fill="#000" textLength="74.8" lengthAdjust="spacingAndGlyphs" xml:space="preserve">86.5000</text>
<text x="1054.3" y="384.5" font-size="20.2" font-weight="bold" fill="#000" textLength="74.8" lengthAdjust="spacingAndGlyphs" xml:space="preserve">86.0000</text>
<text x="1054.3" y="426.2" font-size="20.2" font-weight="bold" fill="#000" textLength="74.8" lengthAdjust="spacingAndGlyphs" xml:space="preserve">85.5000</text>
<text x="1054.3" y="467.9" font-size="20.2" font-weight="bold" fill="#000" textLength="74.8" lengthAdjust="spacingAndGlyphs" xml:space="preserve">85.0000</text>
<text x="1054.3" y="509.7" font-size="20.2" font-weight="bold" fill="#000" textLength="74.8" lengthAdjust="spacingAndGlyphs" xml:space="preserve">84.5000</text>
<text x="1054.3" y="551.4" font-size="20.2" font-weight="bold" fill="#000" textLength="74.8" lengthAdjust="spacingAndGlyphs" xml:space="preserve">84.0000</text>
<text x="1054.3" y="593.1" font-size="20.2" font-weight="bold" fill="#000" textLength="74.8" lengthAdjust="spacingAndGlyphs" xml:space="preserve">83.5000</text>
<text x="1054.3" y="634.8" font-size="20.2" font-weight="bold" fill="#000" textLength="74.8" lengthAdjust="spacingAndGlyphs" xml:space="preserve">83.0000</text>
<text x="20.4" y="658.4" font-size="19.7" font-weight="bold" fill="#000" textLength="33.6" lengthAdjust="spacingAndGlyphs" xml:space="preserve">Oct</text>
<text x="97.5" y="658.4" font-size="19.7" font-weight="bold" fill="#000" textLength="40.3" lengthAdjust="spacingAndGlyphs" xml:space="preserve">Nov</text>
<text x="163.1" y="658.4" font-size="19.7" font-weight="bold" fill="#000" textLength="37.0" lengthAdjust="spacingAndGlyphs" xml:space="preserve">Dec</text>
<text x="240.9" y="658.4" font-size="19.7" font-weight="bold" fill="#000" textLength="32.6" lengthAdjust="spacingAndGlyphs" xml:space="preserve">Jan</text>
<text x="323.0" y="658.4" font-size="19.7" font-weight="bold" fill="#000" textLength="34.3" lengthAdjust="spacingAndGlyphs" xml:space="preserve">Feb</text>
<text x="384.7" y="658.4" font-size="19.7" font-weight="bold" fill="#000" textLength="40.0" lengthAdjust="spacingAndGlyphs" xml:space="preserve">Mar</text>
<text x="455.7" y="658.4" font-size="19.7" font-weight="bold" fill="#000" textLength="34.3" lengthAdjust="spacingAndGlyphs" xml:space="preserve">Apr</text>
<text x="516.4" y="658.4" font-size="19.7" font-weight="bold" fill="#000" textLength="44.0" lengthAdjust="spacingAndGlyphs" xml:space="preserve">May</text>
<text x="592.5" y="658.4" font-size="19.7" font-weight="bold" fill="#000" textLength="34.3" lengthAdjust="spacingAndGlyphs" xml:space="preserve">Jun</text>
<text x="671.2" y="658.4" font-size="19.7" font-weight="bold" fill="#000" textLength="27.6" lengthAdjust="spacingAndGlyphs" xml:space="preserve">Jul</text>
<text x="749.0" y="658.4" font-size="19.7" font-weight="bold" fill="#000" textLength="37.6" lengthAdjust="spacingAndGlyphs" xml:space="preserve">Aug</text>
<text x="818.8" y="658.4" font-size="19.7" font-weight="bold" fill="#000" textLength="34.5" lengthAdjust="spacingAndGlyphs" xml:space="preserve">Sep</text>
<text x="894.9" y="658.4" font-size="19.7" font-weight="bold" fill="#000" textLength="34.2" lengthAdjust="spacingAndGlyphs" xml:space="preserve">Oct</text>
<text x="971.7" y="658.4" font-size="19.7" font-weight="bold" fill="#000" textLength="39.0" lengthAdjust="spacingAndGlyphs" xml:space="preserve">Nov</text>
<text x="11.7" y="674.4" font-size="15.0" font-weight="normal" fill="#000" textLength="229.6" lengthAdjust="spacingAndGlyphs" xml:space="preserve">Source: Continuum Economics</text>
<text x="940.7" y="149.3" font-size="16.4" font-weight="bold" fill="#ff0000" textLength="70.6" lengthAdjust="spacingAndGlyphs" xml:space="preserve">88.8000</text>
<text x="940.7" y="175.3" font-size="16.4" font-weight="bold" fill="#ff0000" textLength="70.6" lengthAdjust="spacingAndGlyphs" xml:space="preserve">88.4550</text>
<text x="741.5" y="187.9" font-size="16.4" font-weight="bold" fill="#ff0000" textLength="70.6" lengthAdjust="spacingAndGlyphs" xml:space="preserve">88.3300</text>
<text x="942.0" y="225.3" font-size="16.4" font-weight="bold" fill="#ff0000" textLength="70.6" lengthAdjust="spacingAndGlyphs" xml:space="preserve">87.8850</text>
<text x="942.0" y="256.3" font-size="16.4" font-weight="bold" fill="#ff0000" textLength="70.6" lengthAdjust="spacingAndGlyphs" xml:space="preserve">87.5000</text>
<text x="911.4" y="308.2" font-size="16.4" font-weight="bold" fill="#ff0000" textLength="70.6" lengthAdjust="spacingAndGlyphs" xml:space="preserve">86.9000</text>
<text x="911.4" y="341.0" font-size="16.4" font-weight="bold" fill="#ff0000" textLength="70.6" lengthAdjust="spacingAndGlyphs" xml:space="preserve">86.5000</text>
<text x="324.7" y="208.2" font-size="16.4" font-weight="bold" fill="#ff0000" textLength="70.6" lengthAdjust="spacingAndGlyphs" xml:space="preserve">87.9500</text>
<text x="501.5" y="582.4" font-size="16.4" font-weight="bold" fill="#ff0000" textLength="70.6" lengthAdjust="spacingAndGlyphs" xml:space="preserve">83.7700</text>
<text x="660.4" y="462.4" font-size="16.4" font-weight="bold" fill="#ff0000" textLength="70.6" lengthAdjust="spacingAndGlyphs" xml:space="preserve">85.1900</text>
<text x="826.2" y="402.2" font-size="17.4" font-weight="bold" fill="#0b72c2" textLength="106.6" lengthAdjust="spacingAndGlyphs" xml:space="preserve">200-day MA</text>
<polygon points="984.5,60.4 962.9,62.8 968.8,68.6 951.6,85.4 958.8,92.6 975.6,75.7 981.6,81.8" fill="#00b050" stroke="#000" stroke-width="1.3" stroke-linejoin="miter"/>
</svg>
</body></html>
